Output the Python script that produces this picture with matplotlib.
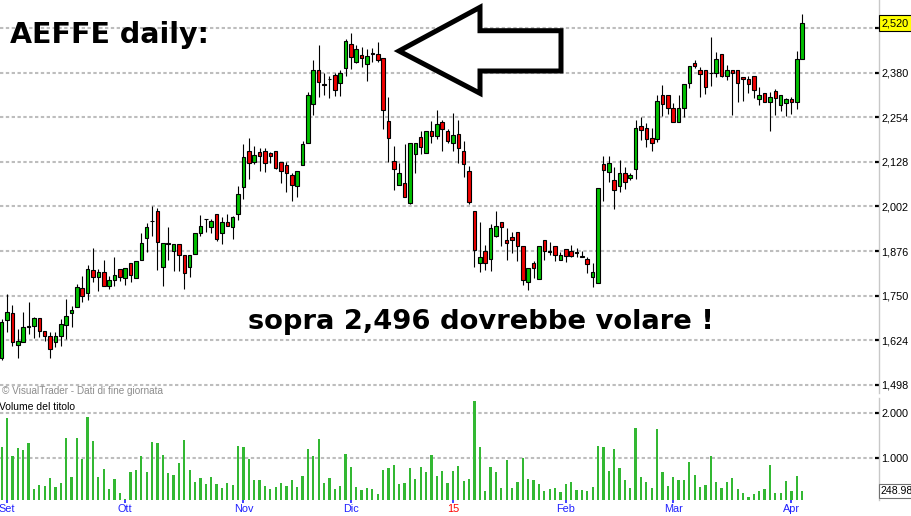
import numpy as np
import matplotlib.pyplot as plt
from matplotlib.patches import Polygon
import matplotlib.transforms as mtransforms

plt.rcParams['font.family'] = ['Liberation Sans', 'DejaVu Sans']
plt.rcParams['lines.scale_dashes'] = False

# daily OHLC (Aug/Sep 2014 -> Apr 2015)
opens = [1573, 1682, 1702, 1611, 1620, 1661, 1665, 1686, 1649, 1637,
         1620, 1637, 1668, 1702, 1719, 1772, 1758, 1823, 1803, 1817,
         1778, 1795, 1825, 1801, 1841, 1800, 1851, 1914, 1960, 1989,
         1832, 1896, 1877, 1895, 1866, 1832, 1869, 1928, 1966, 1944,
         1982, 1928, 1959, 1945, 1982, 2057, 2160, 2128, 2157, 2160,
         2154, 2160, 2128, 2118, 2090, 2059, 2118, 2180, 2291, 2389,
         2348, 2361, 2373, 2350, 2392, 2460, 2409, 2430, 2406, 2437,
         2433, 2421, 2244, 2130, 2062, 2067, 2011, 2149, 2199, 2154,
         2214, 2202, 2242, 2216, 2180, 2208, 2160, 2103, 1990, 1843,
         1877, 1854, 1920, 1959, 1908, 1917, 1931, 1889, 1790, 1841,
         1798, 1908, 1874, 1891, 1852, 1881, 1875, 1872, 1862, 1853,
         1804, 1785, 2121, 2100, 2076, 2059, 2098, 2083, 2107, 2229,
         2223, 2195, 2194, 2316, 2316, 2279, 2240, 2279, 2350, 2407,
         2389, 2389, 2378, 2379, 2434, 2370, 2389, 2389, 2367, 2361,
         2370, 2306, 2324, 2296, 2327, 2290, 2293, 2307, 2296, 2420]
highs = [1685, 1755, 1725, 1657, 1705, 1731, 1691, 1686, 1649, 1647,
         1647, 1683, 1741, 1720, 1784, 1807, 1838, 1886, 1826, 1851,
         1807, 1858, 1825, 1829, 1841, 1849, 1927, 1954, 2003, 1998,
         1900, 1943, 1897, 1895, 1866, 1866, 1926, 1977, 1968, 1967,
         1982, 1971, 1982, 1975, 2059, 2178, 2195, 2172, 2166, 2166,
         2157, 2160, 2128, 2128, 2098, 2101, 2187, 2325, 2416, 2458,
         2378, 2371, 2380, 2388, 2475, 2491, 2458, 2453, 2446, 2449,
         2467, 2421, 2312, 2173, 2124, 2179, 2180, 2180, 2215, 2214,
         2243, 2274, 2246, 2222, 2265, 2246, 2186, 2116, 1990, 1957,
         1894, 1953, 1990, 1959, 1940, 1930, 1931, 1889, 1829, 1849,
         1889, 1908, 1902, 1891, 1874, 1881, 1892, 1884, 1875, 1860,
         1841, 2053, 2144, 2144, 2113, 2132, 2115, 2096, 2246, 2254,
         2237, 2223, 2316, 2344, 2316, 2293, 2317, 2347, 2398, 2416,
         2395, 2389, 2481, 2438, 2434, 2403, 2389, 2389, 2367, 2370,
         2370, 2341, 2324, 2325, 2334, 2318, 2308, 2310, 2441, 2545]
lows = [1569, 1647, 1609, 1574, 1620, 1642, 1631, 1633, 1623, 1574,
        1605, 1607, 1627, 1661, 1719, 1732, 1738, 1788, 1763, 1778,
        1769, 1778, 1791, 1781, 1788, 1800, 1851, 1874, 1918, 1824,
        1778, 1852, 1820, 1820, 1770, 1803, 1869, 1919, 1930, 1928,
        1905, 1897, 1947, 1911, 1965, 2023, 2079, 2123, 2101, 2099,
        2125, 2108, 2069, 2044, 2018, 2030, 2118, 2180, 2260, 2312,
        2317, 2309, 2315, 2315, 2370, 2391, 2407, 2397, 2357, 2411,
        2411, 2220, 2129, 2050, 2062, 2028, 2009, 2098, 2149, 2154,
        2180, 2193, 2159, 2182, 2159, 2126, 2086, 2009, 1831, 1817,
        1822, 1821, 1916, 1891, 1852, 1871, 1848, 1779, 1767, 1800,
        1798, 1852, 1866, 1849, 1852, 1844, 1860, 1860, 1859, 1815,
        1774, 1785, 2018, 2072, 1996, 2044, 2052, 2076, 2079, 2189,
        2169, 2160, 2185, 2258, 2262, 2240, 2240, 2256, 2338, 2392,
        2310, 2321, 2342, 2369, 2369, 2359, 2261, 2298, 2301, 2323,
        2308, 2290, 2296, 2216, 2261, 2272, 2259, 2262, 2277, 2420]
closes = [1677, 1705, 1619, 1623, 1662, 1665, 1686, 1651, 1636, 1600,
          1637, 1671, 1693, 1711, 1775, 1750, 1826, 1802, 1818, 1778,
          1793, 1809, 1802, 1829, 1808, 1849, 1900, 1945, 1962, 1901,
          1900, 1899, 1897, 1866, 1815, 1866, 1926, 1948, 1968, 1962,
          1909, 1959, 1947, 1971, 2036, 2143, 2126, 2147, 2145, 2126,
          2145, 2111, 2101, 2098, 2062, 2101, 2178, 2316, 2389, 2353,
          2346, 2363, 2330, 2378, 2469, 2423, 2446, 2421, 2426, 2432,
          2415, 2274, 2195, 2107, 2098, 2028, 2180, 2180, 2169, 2214,
          2202, 2236, 2222, 2186, 2205, 2166, 2122, 2016, 1879, 1860,
          1841, 1940, 1948, 1945, 1900, 1906, 1891, 1795, 1829, 1829,
          1889, 1875, 1875, 1866, 1866, 1863, 1862, 1873, 1860, 1840,
          1816, 2053, 2106, 2124, 2050, 2098, 2070, 2090, 2223, 2217,
          2192, 2180, 2299, 2291, 2279, 2240, 2279, 2347, 2398, 2398,
          2375, 2341, 2380, 2420, 2370, 2389, 2378, 2350, 2361, 2348,
          2330, 2318, 2296, 2310, 2309, 2318, 2306, 2296, 2420, 2520]
# volume in thousands of shares
volumes = [1241, 1895, 1038, 1218, 1173, 1331, 293, 376, 361, 541,
           338, 428, 1444, 564, 1444, 970, 1917, 1376, 564, 744,
           293, 519, 203, 75, 677, 722, 1038, 677, 1353, 1331,
           1060, 654, 609, 880, 1399, 722, 451, 541, 406, 564,
           406, 316, 428, 383, 1263, 1241, 970, 496, 496, 361,
           293, 338, 428, 361, 496, 338, 586, 1196, 1038, 1421,
           428, 541, 293, 361, 1083, 789, 338, 271, 316, 293,
           180, 722, 767, 835, 406, 428, 767, 519, 789, 677,
           1060, 586, 699, 421, 699, 812, 474, 519, 2278, 1241,
           248, 789, 677, 316, 947, 316, 451, 992, 519, 496,
           406, 248, 293, 316, 225, 406, 451, 271, 271, 248,
           338, 1263, 1241, 699, 1196, 767, 496, 316, 1669, 564,
           451, 316, 1647, 677, 361, 564, 496, 496, 902, 609,
           338, 383, 1038, 451, 316, 451, 541, 293, 203, 113,
           180, 248, 293, 835, 203, 203, 474, 248, 586, 249]

month_pos = [1, 23, 45, 65, 84, 105, 125, 147]
month_labels = ['Set', 'Ott', 'Nov', 'Dic', '15', 'Feb', 'Mar', 'Apr']
price_ticks = [1498, 1624, 1750, 1876, 2002, 2128, 2254, 2380, 2506]
vol_ticks = [1000, 2000]
vol_tick_labels = ['1.000', '2.000']
last_price_label = '2,520'
last_vol_label = '248.98'

W, H = 912, 516
fig = plt.figure(figsize=(W / 100, H / 100), dpi=100)
ax = fig.add_axes([0, 1 - 393 / H, 879 / W, 393 / H])
axv = fig.add_axes([0, 16 / H, 879 / W, 102 / H])

x = np.arange(len(closes))
o = np.array(opens)
c = np.array(closes)
colors = np.where(c >= o, '#00c000', '#f00000')

grid_kw = dict(color='#bdbdbd', linestyle=(0, (2.4, 1.8)), linewidth=1.5)
blue = '#2020ff'

for a in (ax, axv):
    a.set_xlim(-0.31, 163.3)
    a.set_axisbelow(True)
    for s in ('left', 'top', 'bottom'):
        a.spines[s].set_visible(False)
    a.spines['right'].set_color('#c8c8c8')
    a.spines['right'].set_linewidth(1.0)
    a.yaxis.tick_right()
    a.tick_params(axis='y', direction='in', length=3.2, width=1.6,
                  color='black', pad=1.5, labelsize=7.8)
    a.yaxis.grid(True, **grid_kw)

# price panel
ax.vlines(x, lows, highs, color='black', linewidth=0.8, zorder=3)
ax.bar(x, np.maximum(np.abs(c - o), 0.5), bottom=np.minimum(o, c), width=0.66,
       color=colors, edgecolor='black', linewidth=0.8, zorder=4)
ax.set_ylim(1475.1, 2585.4)
ax.set_yticks(price_ticks)
# the top label sits under the last-price box
ax.set_yticklabels([f'{p:,}' if p != price_ticks[-1] else '' for p in price_ticks])
ax.set_xticks([])

trans = mtransforms.blended_transform_factory(ax.transAxes, ax.transData)
ax.text(1.003, closes[-1], last_price_label, transform=trans, ha='left', va='center',
        fontsize=7.8, clip_on=False, zorder=10,
        bbox=dict(boxstyle='square,pad=0.28', fc='#ffff00', ec='black', lw=0.8))

# volume panel
axv.bar(x, volumes, width=0.42, color='#33b833', zorder=3)
axv.set_ylim(47, 2345)
axv.set_yticks(vol_ticks)
axv.set_yticklabels(vol_tick_labels)
axv.set_xticks(month_pos)
axv.set_xticklabels(month_labels)
axv.tick_params(axis='x', direction='out', length=2.2, width=1.2, color=blue,
                labelcolor=blue, pad=1, labelsize=7.8)
i15 = month_labels.index('15')
axv.get_xticklabels()[i15].set_color('#ff0000')
axv.xaxis.get_major_ticks()[i15].tick1line.set_color('#ff0000')

transv = mtransforms.blended_transform_factory(axv.transAxes, axv.transData)
axv.text(1.002, volumes[-1], last_vol_label, transform=transv, ha='left', va='center',
         fontsize=7.6, clip_on=False, zorder=10,
         bbox=dict(boxstyle='square,pad=0.15', fc='white', ec='#707070', lw=0.8))

# texts
def px(xp, yp):
    return xp / W, 1 - yp / H

fig.text(*px(10, 43), 'AEFFE daily:', family='DejaVu Sans', fontweight='bold',
         fontsize=20.5, va='baseline')
fig.text(*px(248, 328.7), 'sopra 2,496 dovrebbe volare !', family='DejaVu Sans',
         fontweight='bold', fontsize=19.7, va='baseline')
fig.text(*px(2, 391), '\u00a9 VisualTrader - Dati di fine giornata', color='#8c8c8c',
         fontsize=7.2, va='center')
fig.text(*px(-1, 407), 'Volume del titolo', color='black', fontsize=7.5, va='center')

# hand-drawn arrow pointing at the December top
arrow_px = [(399, 51), (480, 7.3), (480, 30.7), (561, 30.7), (561, 71), (480, 71), (480, 93.3)]
arrow = Polygon([px(a, b) for a, b in arrow_px], closed=True, transform=fig.transFigure,
                fc='white', ec='black', lw=3.6, joinstyle='miter', zorder=6)
fig.add_artist(arrow)

fig.savefig('out.png', dpi=100)
